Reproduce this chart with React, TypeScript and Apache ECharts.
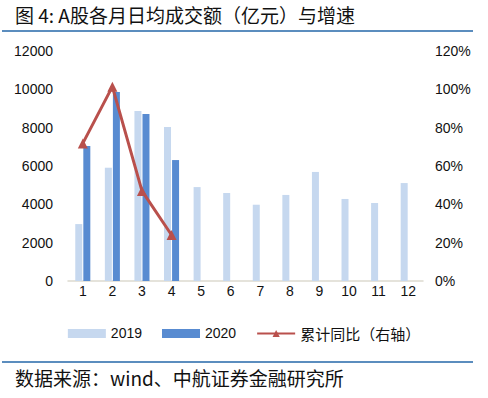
import React, { useEffect, useRef } from "react";
import * as echarts from "echarts";

const categories = ["1", "2", "3", "4", "5", "6", "7", "8", "9", "10", "11", "12"];
const values2019 = [2970, 5910, 8870, 8030, 4900, 4590, 3980, 4490, 5690, 4280, 4070, 5110];
const values2020 = [7040, 9860, 8710, 6310];
const growth = [71.8, 101.4, 47, 24];
const leftTicks = [0, 2000, 4000, 6000, 8000, 10000, 12000];
const rightTicks = [0, 20, 40, 60, 80, 100, 120];

const titleText = "图 4: A股各月日均成交额（亿元）与增速";
const sourceText = "数据来源：wind、中航证券金融研究所";

export default function App() {
  const ref = useRef<HTMLDivElement>(null);
  useEffect(() => {
    if (!ref.current) return;
    const chart = echarts.init(ref.current, null, { renderer: "svg" });
    const cjk = '"Noto Sans CJK SC", sans-serif';
    const latin = '"Liberation Sans", Arial, sans-serif';
    chart.setOption({
      animation: false,
      backgroundColor: "#ffffff",
      graphic: [
        {
          type: "text",
          left: 15,
          top: 5,
          style: { text: titleText, font: `19px ${cjk}`, fill: "#111" },
        },
        {
          type: "rect",
          shape: { x: 2, y: 30, width: 471, height: 2 },
          style: { fill: "#5B8DBE" },
        },
        {
          type: "rect",
          shape: { x: 2, y: 361, width: 471, height: 2 },
          style: { fill: "#5B8DBE" },
        },
        {
          type: "text",
          left: 15,
          top: 368,
          style: { text: sourceText, font: `19px ${cjk}`, fill: "#111" },
        },
      ],
      legend: {
        bottom: 52,
        left: "center",
        itemWidth: 38,
        itemHeight: 9,
        itemGap: 20,
        textStyle: { fontSize: 14, color: "#111", fontFamily: latin },
        data: [
          { name: "2019", icon: "rect" },
          { name: "2020", icon: "rect" },
          { name: "累计同比（右轴）", textStyle: { fontFamily: cjk, fontSize: 15 } },
        ],
      },
      grid: { left: 68, right: 65, top: 51, bottom: 117 },
      xAxis: {
        type: "category",
        data: categories,
        axisLine: { lineStyle: { color: "#DDDAD0", width: 1.5 } },
        axisTick: { show: false },
        axisLabel: { fontSize: 14, color: "#111", fontFamily: latin, margin: 3 },
      },
      yAxis: [
        {
          type: "value",
          min: leftTicks[0],
          max: leftTicks[leftTicks.length - 1],
          interval: 2000,
          splitLine: { show: false },
          axisLine: { show: false },
          axisTick: { show: false },
          axisLabel: {
            fontSize: 14,
            color: "#111",
            fontFamily: latin,
            margin: 15,
            formatter: (v: number) => `${v}`,
          },
        },
        {
          type: "value",
          min: rightTicks[0],
          max: rightTicks[rightTicks.length - 1],
          interval: 20,
          splitLine: { show: false },
          axisLine: { show: false },
          axisTick: { show: false },
          axisLabel: {
            fontSize: 14,
            color: "#111",
            fontFamily: latin,
            margin: 12,
            formatter: (v: number) => `${v}%`,
          },
        },
      ],
      series: [
        {
          name: "2019",
          type: "bar",
          data: values2019,
          barWidth: 7,
          barGap: "15%",
          itemStyle: { color: "#C6D8EF" },
        },
        {
          name: "2020",
          type: "bar",
          data: values2020,
          barWidth: 7,
          itemStyle: { color: "#588BD1" },
        },
        {
          name: "累计同比（右轴）",
          type: "line",
          yAxisIndex: 1,
          data: growth,
          symbol: "triangle",
          symbolSize: 10,
          lineStyle: { color: "#B9504C", width: 3 },
          itemStyle: { color: "#B9504C" },
        },
      ],
    });
    return () => chart.dispose();
  }, []);
  return <div ref={ref} style={{ width: 488, height: 398, position: "absolute", left: 0, top: 0 }} />;
}
